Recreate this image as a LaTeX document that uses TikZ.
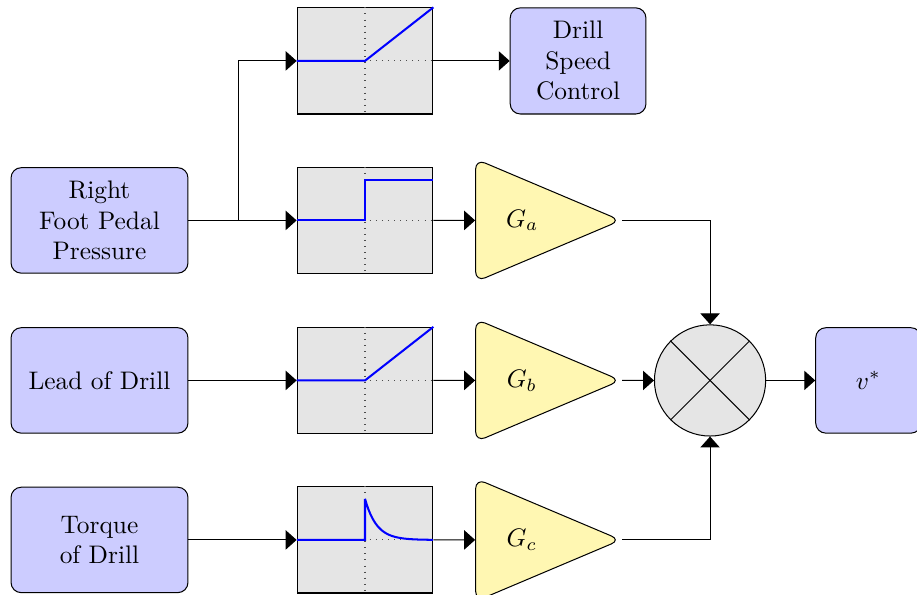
\documentclass[tikz,border=0pt]{standalone}
\usepackage{amsmath}
\usepackage{xcolor}
\usepackage{tikz}
\usetikzlibrary{arrows.meta,positioning,shapes.geometric,calc}

\definecolor{gainfill}{RGB}{255,247,178}

\begin{document}
\begin{tikzpicture}[
    block/.style={draw, fill=blue!20, rounded corners, align=center, minimum height=1.46cm},
    plotbox/.style={draw, fill=gray!20, minimum width=1.88cm, minimum height=1.47cm},
    gain/.style={isosceles triangle, isosceles triangle stretches, draw, fill=gainfill,
      rounded corners, minimum width=1.70cm, minimum height=2.01cm, anchor=west},
    conn/.style={-{Triangle[length=4.3pt,width=7.6pt]}},
    curve/.style={blue, thick},
    axis/.style={dotted, black!70}
  ]
  \useasboundingbox (0,0) rectangle (12.70,8.24);

  % Inputs (left)
  \node[block, minimum width=2.45cm] (pedal) at (1.378, 5.187) {Right\\Foot Pedal\\Pressure};
  \node[block, minimum width=2.45cm] (lead) at (1.378, 2.971) {Lead of Drill};
  \node[block, minimum width=2.45cm] (torque) at (1.378, 0.762) {Torque\\of Drill};

  % Characteristic curves
  \node[plotbox] (dz) at (5.055, 7.396) {};
  \node[plotbox] (stp) at (5.055, 5.187) {};
  \node[plotbox] (ramp) at (5.055, 2.971) {};
  \node[plotbox] (imp) at (5.055, 0.762) {};
  \foreach \p in {dz,stp,ramp,imp} {
    \draw[axis] (\p.north) -- (\p.south);
    \draw[axis] (\p.west) -- (\p.east);
  }
  \draw[curve] (dz.west) -- (dz.center) -- (dz.north east);
  \draw[curve] (stp.west) -- (stp.center) -- ($(stp.north)+(0,-0.18)$) -- ($(stp.north east)+(0,-0.18)$);
  \draw[curve] (ramp.west) -- (ramp.center) -- (ramp.north east);
  \begin{scope}[shift={(imp.center)}]
    \draw[curve] (-0.94,0) -- (0,0) -- (0,0.57)
      plot[domain=0:0.94, samples=40] (\x, {0.57*exp(-\x/0.16)});
  \end{scope}

  % Drill speed output (top)
  \node[block, minimum width=1.88cm, minimum height=1.47cm] (dsc) at (8.006, 7.396) {Drill\\Speed\\Control};

  % Gains
  \node[gain] (ga) at (6.58, 5.187) {\hspace{0.15cm}$G_a$};
  \node[gain] (gb) at (6.58, 2.971) {\hspace{0.15cm}$G_b$};
  \node[gain] (gc) at (6.58, 0.762) {\hspace{0.15cm}$G_c$};

  % Multiplier and output
  \node[draw, circle, fill=gray!20, minimum size=1.54cm] (mult) at (9.834, 2.971) {};
  \draw (mult.45) -- (mult.225);
  \draw (mult.135) -- (mult.315);
  \node[block, minimum width=1.46cm, anchor=west] (vout) at (11.29, 2.971) {$v^*$};

  % Connections
  \coordinate (split) at (3.30, 5.187);
  \draw (pedal) -- (split);
  \draw[conn] (split) -- (stp);
  \draw[conn] (split) |- (dz);
  \draw[conn] (dz) -- (dsc);
  \draw[conn] (lead) -- (ramp);
  \draw[conn] (torque) -- (imp);
  \draw[conn] (stp) -- (ga);
  \draw[conn] (ramp) -- (gb);
  \draw[conn] (imp) -- (gc);
  \draw[conn] (ga) -| (mult);
  \draw[conn] (gb) -- (mult);
  \draw[conn] (gc) -| (mult);
  \draw[conn] (mult) -- (vout);
\end{tikzpicture}
\end{document}
